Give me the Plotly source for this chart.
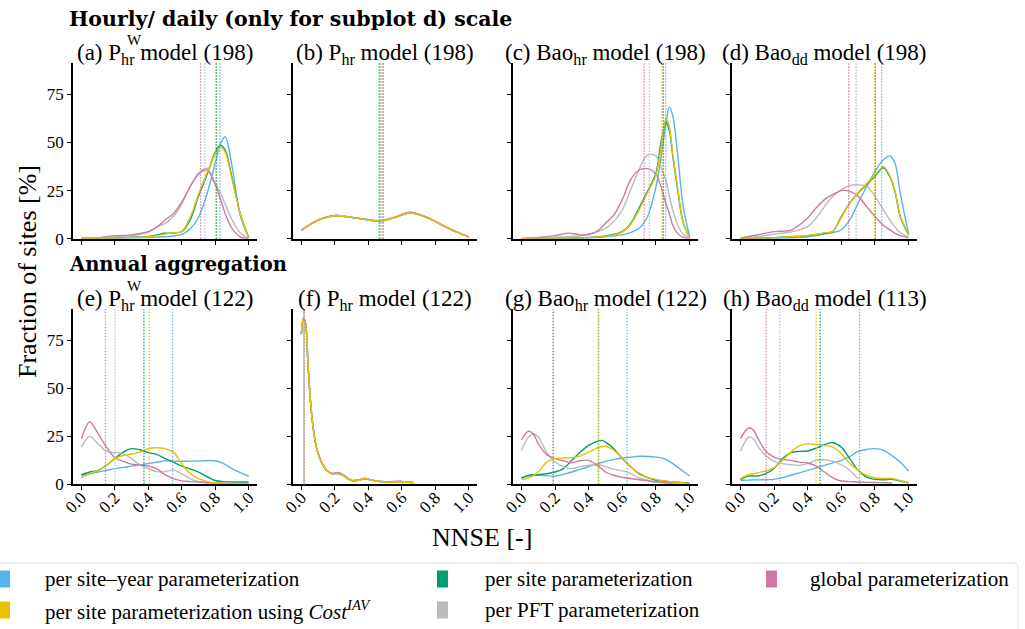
import plotly.graph_objects as go

W, H = 1025, 629

# ---- colours of the five parameterization strategies ----
C_SITEYEAR = "#56B4E9"
C_IAV = "#E6C200"
C_SITE = "#009E73"
C_PFT = "#BBBBBB"
C_GLOBAL = "#CC79A7"

LEGEND_LABELS = [
    "per site–year parameterization",
    "per site parameterization using <i>Cost</i><sup><i>IAV</i></sup>",
    "per site parameterization",
    "per PFT parameterization",
    "global parameterization",
]

X_TICKS = [0.0, 0.2, 0.4, 0.6, 0.8, 1.0]
Y_TICKS = [0, 25, 50, 75]

# ---- (a) P_hr^W model, hourly ----
x_a = [0, 0.1, 0.2, 0.3, 0.4, 0.45, 0.5, 0.55, 0.6, 0.65, 0.7, 0.75, 0.8, 0.83, 0.86, 0.9, 0.95, 1.0]
a_siteyear = [0, 0.1, 0.2, 0.4, 0.6, 0.8, 1.0, 1.4, 2.2, 5.0, 11, 23, 39, 49, 53, 38, 12, 1.0]
a_iav = [0, 0.2, 0.3, 0.6, 1.0, 1.6, 2.4, 3.0, 3.8, 11, 23, 34, 44, 47.5, 45, 31, 13, 0.5]
a_site = [0, 0.3, 0.4, 0.8, 1.2, 2.0, 2.8, 3.0, 3.6, 9.7, 22, 33, 45, 48.6, 46, 32, 13, 0.5]
a_pft = [0.2, 0.4, 0.8, 1.5, 3.5, 6.0, 8.0, 11.5, 18, 27, 34, 36.6, 29, 24, 18, 10, 3.0, 0.3]
a_global = [0.3, 0.5, 1.5, 2.0, 3.6, 6.0, 9.7, 13, 19, 27, 33.5, 35.8, 28, 21, 13, 5.4, 1.0, 0]

# ---- (b) P_hr model, hourly ----
x_b = [0, 0.1, 0.2, 0.3, 0.4, 0.47, 0.55, 0.65, 0.75, 0.85, 0.92, 1.0]
b_siteyear = [4.5, 9.7, 12.0, 11.1, 9.8, 9.2, 10.8, 13.4, 11.0, 6.7, 3.8, 0.9]
b_iav = [4.5, 9.7, 12.0, 11.1, 9.8, 9.2, 10.8, 13.4, 11.0, 6.7, 3.8, 0.9]
b_site = [4.4, 9.6, 11.9, 11.0, 9.7, 9.1, 10.7, 13.3, 11.0, 6.7, 3.8, 0.9]
b_pft = [4.5, 9.7, 12.0, 11.1, 9.8, 9.3, 10.9, 13.6, 11.1, 6.8, 3.8, 0.9]
b_global = [4.5, 9.8, 12.1, 11.2, 9.9, 9.4, 11.0, 13.8, 11.2, 6.8, 3.9, 0.9]

# ---- (c) Bao_hr model, hourly ----
x_c = [0, 0.1, 0.2, 0.28, 0.35, 0.4, 0.45, 0.5, 0.55, 0.6, 0.65, 0.7, 0.75, 0.8, 0.83, 0.86, 0.88, 0.9, 0.93, 0.96, 1.0]
c_siteyear = [0, 0.1, 0.2, 0.3, 0.4, 0.5, 0.7, 1.0, 1.5, 2.0, 3.2, 5.4, 11.5, 27, 42, 60, 68.5, 64, 43, 18, 1.0]
c_iav = [0, 0.1, 0.2, 0.3, 0.4, 0.5, 0.8, 1.2, 2.0, 3.4, 7.5, 15, 24, 33, 47, 62.5, 58, 44, 26, 9, 0.5]
c_site = [0, 0.1, 0.2, 0.3, 0.4, 0.6, 0.9, 1.4, 2.3, 3.7, 8.0, 16, 24.7, 34, 50, 60.5, 56, 43, 25, 9, 0.5]
c_pft = [0, 0.5, 0.8, 1.0, 1.5, 2.4, 3.6, 5.4, 9.0, 15, 25.5, 36, 43.5, 43, 37, 30, 22, 15, 7, 2.5, 0.5]
c_global = [0, 0.6, 1.6, 2.9, 2.0, 2.2, 3.8, 8.0, 12.4, 20.3, 30.8, 35.7, 36.4, 33.4, 27, 18, 13, 7, 2.5, 0.8, 0]

# ---- (d) Bao_dd model, daily ----
x_d = [0, 0.1, 0.2, 0.3, 0.4, 0.45, 0.5, 0.55, 0.6, 0.65, 0.7, 0.75, 0.8, 0.85, 0.89, 0.92, 0.95, 1.0]
d_siteyear = [0, 0.1, 0.3, 0.5, 1.0, 1.6, 2.4, 3.2, 4.5, 9.8, 18.5, 27, 35, 41, 43, 39, 24, 2.4]
d_iav = [0, 0.2, 0.5, 1.0, 1.7, 2.3, 3.0, 3.8, 11, 18.5, 24, 28.5, 33, 37.5, 32.5, 24.5, 12, 2.0]
d_site = [0, 0.2, 0.5, 1.0, 1.6, 2.2, 2.8, 3.7, 11.5, 18.5, 23.8, 28, 32.5, 36.9, 32, 24, 11.5, 1.9]
d_pft = [0.3, 1.0, 2.4, 3.5, 6.3, 10.7, 16.8, 22, 25.5, 27.6, 28, 27.3, 22, 15, 9.5, 6.0, 3.1, 1.0]
d_global = [0.3, 1.9, 3.7, 4.5, 10.7, 16, 20.3, 23, 25, 24.6, 22, 16.8, 11.5, 7.0, 4.5, 2.8, 1.6, 0.5]

# ---- (e) P_hr^W model, annual ----
x_e = [0, 0.05, 0.1, 0.15, 0.2, 0.25, 0.3, 0.35, 0.4, 0.45, 0.5, 0.55, 0.6, 0.65, 0.7, 0.8, 0.85, 0.9, 1.0]
e_siteyear = [4.7, 5.5, 6.4, 7.3, 8.2, 8.8, 9.5, 10.1, 10.8, 11.5, 12.2, 12.1, 12.0, 12.1, 12.2, 12.3, 10.8, 8.2, 4.2]
e_iav = [3.5, 5.6, 7.3, 9.9, 13.4, 15, 15.8, 16.8, 18.6, 19.1, 18.6, 16.8, 10.8, 5.6, 3.0, 0.7, 0.5, 0.4, 0.3]
e_site = [5.0, 6.4, 7.3, 9.9, 13.4, 16.8, 18.6, 18, 16.5, 15.6, 13.4, 11.6, 9.5, 8.0, 6.4, 2.0, 1.4, 1.2, 1.2]
e_pft = [19.4, 25, 21.2, 17.2, 16.5, 16, 13.4, 10.2, 8.2, 6.6, 6.6, 7.5, 5.4, 3.0, 1.4, 0.7, 0.5, 0.4, 0.2]
e_global = [23.8, 32.5, 26.4, 19.4, 14, 12, 10.5, 10, 9.5, 8.2, 5.0, 3.0, 1.8, 1.4, 1.2, 0.7, 0.5, 0.3, 0.2]

# ---- (f) P_hr model, annual ----
x_f = [0, 0.012, 0.025, 0.04, 0.06, 0.08, 0.1, 0.12, 0.15, 0.18, 0.22, 0.25, 0.3, 0.34, 0.38, 0.42, 0.5, 0.6, 0.67]
f_siteyear = [78.5, 86.6, 84, 62, 37.7, 23.8, 16, 11.6, 7.3, 5.6, 5.6, 4.7, 1.9, 2.1, 3.0, 2.1, 1.2, 1.2, 0.9]
f_iav = [78.5, 86.6, 84, 62, 37.7, 23.8, 16, 11.6, 7.3, 5.6, 5.6, 4.7, 1.9, 2.1, 3.0, 2.1, 1.2, 1.2, 0.9]
f_site = [78.3, 86.4, 83.8, 62, 37.7, 23.8, 16, 11.6, 7.3, 5.6, 5.6, 4.6, 1.9, 2.1, 2.9, 2.1, 1.2, 1.2, 0.9]
f_pft = [78.5, 86.6, 84, 62, 37.9, 24, 16.2, 11.7, 7.4, 5.7, 5.8, 4.8, 2.0, 2.2, 3.1, 2.1, 1.3, 1.3, 0.9]
f_global = [78.5, 86.6, 84, 62, 37.9, 24, 16.2, 11.8, 7.5, 5.8, 6.2, 5.0, 2.1, 2.3, 3.2, 2.2, 1.4, 1.8, None]

# ---- (g) Bao_hr model, annual ----
x_g = [0, 0.04, 0.07, 0.1, 0.15, 0.2, 0.25, 0.3, 0.35, 0.4, 0.45, 0.48, 0.5, 0.55, 0.6, 0.65, 0.7, 0.8, 0.85, 0.9, 0.95, 1.0]
g_siteyear = [3.3, 4.4, 4.7, 4.7, 4.5, 4.3, 5.2, 6.4, 7.8, 9.2, 10.6, 11.4, 12, 13, 13.7, 14.2, 14.6, 14.2, 13.4, 10.8, 7.6, 4.3]
g_iav = [2.4, 3.3, 4.5, 6.4, 11.6, 13.4, 13.7, 13.9, 14.8, 16.8, 18.9, 19.7, 20, 17.7, 13.7, 9.2, 5.2, 2.6, 1.8, 1.2, 0.8, 0.5]
g_site = [3.3, 4.6, 5.0, 5.0, 5.5, 6.4, 8.2, 12.5, 16.8, 20.3, 22.4, 22.9, 22, 18.6, 13.4, 9.2, 5.6, 2.1, 1.6, 1.2, 1.0, 0.7]
g_pft = [17.7, 24.5, 26.4, 24.7, 16.8, 11.6, 9.2, 8.2, 9.2, 9.9, 10.2, 9.8, 9.2, 7.9, 7.0, 5.6, 3.3, 1.2, 0.8, 0.5, 0.3, 0.2]
g_global = [23, 27.6, 26.4, 21.2, 15.5, 13.4, 12.2, 11.2, 12.3, 12.5, 9.9, 8.0, 6.4, 4.7, 3.6, 3.0, 2.4, 1.2, 0.9, 0.7, None, None]

# ---- (h) Bao_dd model, annual ----
x_h = [0, 0.05, 0.08, 0.1, 0.15, 0.2, 0.25, 0.3, 0.35, 0.4, 0.45, 0.5, 0.55, 0.6, 0.65, 0.7, 0.75, 0.8, 0.85, 0.9, 0.95, 1.0]
h_siteyear = [2.1, 2.2, 2.3, 2.3, 2.4, 2.6, 3.5, 4.7, 6.0, 7.3, 8.6, 9.9, 11.2, 12.5, 14.5, 17.2, 18.2, 18.6, 17.7, 15.1, 11.6, 6.8]
h_iav = [3.0, 5.0, 5.5, 5.9, 7.0, 8.7, 12.5, 16.8, 20, 21.2, 20.7, 20.3, 19.4, 16, 10.8, 7.3, 4.7, 3.3, 3.0, 3.0, 2.0, 0.7]
h_site = [2.6, 4.3, 4.3, 4.3, 5.6, 8.2, 13.4, 16.5, 17.2, 17.4, 18.9, 20.7, 21.7, 19.4, 13.4, 7.3, 3.8, 2.6, 2.4, 2.6, 1.7, 0.9]
h_pft = [17.2, 24.7, 23.5, 20.3, 15.1, 12, 10.8, 10.2, 9.9, 10.8, 12.5, 12.8, 12, 10.2, 7.3, 2.8, None, None, None, None, None, None]
h_global = [23.8, 29.5, 28.1, 24.7, 17.2, 14.2, 13, 12.5, 11.6, 11.1, 9.5, 6.4, 3.3, 1.7, 1.4, 1.2, 1.0, 0.9, 0.8, 0.7, None, None]

# ---- median NNSE per strategy, panels (a)..(h) ----
med_siteyear = [0.828, 0.475, 0.858, 0.840, 0.546, 0.016, 0.628, 0.708]
med_iav = [0.802, 0.470, 0.836, 0.798, 0.406, 0.014, 0.460, 0.450]
med_site = [0.808, 0.465, 0.844, 0.802, 0.374, 0.015, 0.458, 0.474]
med_pft = [0.738, 0.485, 0.760, 0.688, 0.200, 0.017, 0.186, 0.234]
med_global = [0.713, 0.490, 0.730, 0.644, 0.144, 0.018, 0.190, 0.152]

panel_titles = [
    "(a) P<sub>hr</sub> model (198)",
    "(b) P<sub>hr</sub> model (198)",
    "(c) Bao<sub>hr</sub> model (198)",
    "(d) Bao<sub>dd</sub> model (198)",
    "(e) P<sub>hr</sub> model (122)",
    "(f) P<sub>hr</sub> model (122)",
    "(g) Bao<sub>hr</sub> model (122)",
    "(h) Bao<sub>dd</sub> model (113)",
]

panel_x = [x_a, x_b, x_c, x_d, x_e, x_f, x_g, x_h]
panel_y = [
    [a_siteyear, a_iav, a_site, a_pft, a_global],
    [b_siteyear, b_iav, b_site, b_pft, b_global],
    [c_siteyear, c_iav, c_site, c_pft, c_global],
    [d_siteyear, d_iav, d_site, d_pft, d_global],
    [e_siteyear, e_iav, e_site, e_pft, e_global],
    [f_siteyear, f_iav, f_site, f_pft, f_global],
    [g_siteyear, g_iav, g_site, g_pft, g_global],
    [h_siteyear, h_iav, h_site, h_pft, h_global],
]
colors = [C_SITEYEAR, C_IAV, C_SITE, C_PFT, C_GLOBAL]
medians = [med_siteyear, med_iav, med_site, med_pft, med_global]
draw_order = [0, 2, 3, 4, 1]

SERIF = "Liberation Serif"


def px(x):
    return x / W


def py(y):
    return 1 - y / H


col_px = [(73, 257), (293, 477), (513, 698), (732, 917)]
row_px = [(63, 238.7), (309.3, 484.3)]

fig = go.Figure()
layout = dict(
    template="none",
    width=W, height=H, autosize=False,
    margin=dict(l=0, r=0, t=0, b=0, pad=0, autoexpand=False),
    paper_bgcolor="white", plot_bgcolor="white",
    showlegend=False,
    font=dict(family=SERIF, color="black", size=17),
)
shapes = []
annotations = []

for p in range(8):
    r, c = divmod(p, 4)
    k = p + 1
    xa = "xaxis" if k == 1 else f"xaxis{k}"
    ya = "yaxis" if k == 1 else f"yaxis{k}"
    xr = "x" if k == 1 else f"x{k}"
    yr = "y" if k == 1 else f"y{k}"
    layout[xa] = dict(
        domain=[px(col_px[c][0]), px(col_px[c][1])],
        anchor=yr, range=[-0.05, 1.05], automargin=False,
        tickvals=X_TICKS, ticktext=[f"{v:.1f}" for v in X_TICKS],
        showticklabels=(r == 1), tickangle=-45, ticklabelstandoff=-9,
        ticks="outside", ticklen=4, tickwidth=1, tickcolor="black",
        showline=True, linecolor="black", linewidth=1.6,
        showgrid=False, zeroline=False,
        tickfont=dict(family=SERIF, size=17),
    )
    layout[ya] = dict(
        domain=[py(row_px[r][1]), py(row_px[r][0])],
        anchor=xr, range=[0, 91.3], automargin=False,
        tickvals=Y_TICKS, showticklabels=(c == 0),
        ticks="outside", ticklen=4, tickwidth=1, tickcolor="black",
        showline=True, linecolor="black", linewidth=1.6,
        showgrid=False, zeroline=False,
        tickfont=dict(family=SERIF, size=17),
    )
    for s in draw_order:
        fig.add_trace(go.Scatter(
            x=panel_x[p], y=panel_y[p][s], mode="lines",
            line=dict(color=colors[s], width=1.4, shape="spline", smoothing=0.9),
            xaxis=xr, yaxis=yr, hoverinfo="skip", connectgaps=False,
        ))
        shapes.append(dict(
            type="line", xref=xr, yref=f"{yr} domain",
            x0=medians[s][p], x1=medians[s][p], y0=0, y1=1,
            line=dict(color=colors[s], width=1.3, dash="1.5px,1.5px"),
            opacity=0.9,
        ))
    # panel title, centred over its axes
    tx = (col_px[c][0] + col_px[c][1]) / 2
    ty = 54 if r == 0 else 300
    annotations.append(dict(
        text=panel_titles[p], x=px(tx), y=py(ty), xref="paper", yref="paper",
        xanchor="center", yanchor="middle", showarrow=False,
        font=dict(family=SERIF, size=23),
    ))

# superscript W on the P_hr^W panels
for ty in (40, 286):
    annotations.append(dict(
        text="W", x=px(125), y=py(ty), xref="paper", yref="paper",
        xanchor="left", yanchor="middle", showarrow=False,
        font=dict(family=SERIF, size=15),
    ))

# row headers
annotations.append(dict(
    text="<b>Hourly/ daily (only for subplot d) scale</b>", x=px(67), y=py(19),
    xref="paper", yref="paper", xanchor="left", yanchor="middle",
    showarrow=False, font=dict(family="DejaVu Serif", size=20.5),
))
annotations.append(dict(
    text="<b>Annual aggregation</b>", x=px(67), y=py(264),
    xref="paper", yref="paper", xanchor="left", yanchor="middle",
    showarrow=False, font=dict(family="DejaVu Serif", size=19.5),
))

# shared axis titles
annotations.append(dict(
    text="Fraction of sites [%]", x=px(27), y=py(272), xref="paper", yref="paper",
    xanchor="center", yanchor="middle", textangle=-90, showarrow=False,
    font=dict(family=SERIF, size=26),
))
annotations.append(dict(
    text="NNSE [-]", x=px(482), y=py(537), xref="paper", yref="paper",
    xanchor="center", yanchor="middle", showarrow=False,
    font=dict(family=SERIF, size=26),
))

# legend frame
x0, x1, y0, y1, rad = -6, 1018, 563, 650, 5
shapes.append(dict(
    type="path", xref="paper", yref="paper",
    path=(f"M {px(x0)},{py(y0)} L {px(x1 - rad)},{py(y0)} "
          f"Q {px(x1)},{py(y0)} {px(x1)},{py(y0 + rad)} L {px(x1)},{py(y1)}"),
    line=dict(color="#D9D9D9", width=1), fillcolor="rgba(0,0,0,0)",
))
legend_pos = [(-1, 579, 43), (-1, 610, 43), (437, 579, 483), (437, 610, 483), (766, 579, 808)]
for (sx, cy, tx), col, lab in zip(legend_pos, colors, LEGEND_LABELS):
    shapes.append(dict(
        type="rect", xref="paper", yref="paper",
        x0=px(sx), x1=px(sx + 11), y0=py(cy + 8.5), y1=py(cy - 8.5),
        fillcolor=col, line=dict(width=0),
    ))
    annotations.append(dict(
        text=lab, x=px(tx), y=py(cy), xref="paper", yref="paper",
        xanchor="left", yanchor="middle", showarrow=False,
        font=dict(family=SERIF, size=21),
    ))

layout["shapes"] = shapes
layout["annotations"] = annotations
fig.update_layout(**layout)
fig.write_html("out.html")
